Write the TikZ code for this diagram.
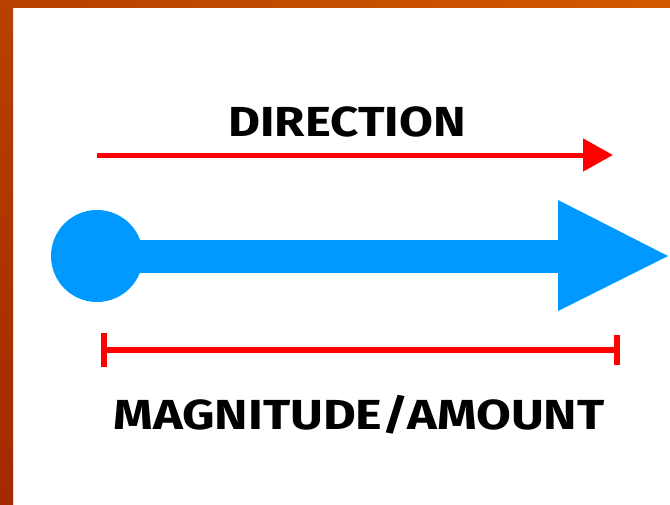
\documentclass[tikz,border=0pt]{standalone}
\usepackage{fontspec}
\setmainfont{Fira Sans}
\usetikzlibrary{arrows.meta}
\definecolor{VecBlue}{HTML}{0099FF}
\definecolor{VecRed}{HTML}{FF0000}
\definecolor{FrameDark}{HTML}{A22A00}
\definecolor{FrameMid}{HTML}{B84000}
\definecolor{FrameLight}{HTML}{D25A00}

\begin{document}
\begin{tikzpicture}[x=1pt, y=-1pt]
        \useasboundingbox (0,0) rectangle (670,504);
        \fill[white] (0,0) rectangle (670,504);
        % frame
        \shade[left color=FrameMid, right color=FrameLight] (0,0) rectangle (670,7);
        \shade[top color=FrameMid, bottom color=FrameDark] (0,0) rectangle (13,504);
        % vector
        \fill[VecBlue] (97,256) circle (46);
        \fill[VecBlue] (130,240) rectangle (560,273);
        \fill[VecBlue] (558,200) -- (668,256) -- (558,311) -- cycle;
        % direction
        \node[font=\bfseries\fontsize{42}{42}\selectfont, xscale=1.17] (dir) at (347,122) {DIRECTION};
        \coordinate (dstart) at (97,155);
        \coordinate (dend) at (613,155);
        \draw[VecRed, line width=5, -{Triangle[length=30, width=32]}] (dstart) -- (dend);
        % magnitude
        \coordinate (mstart) at (101,350);
        \coordinate (mend) at (620,350);
        \draw[VecRed, line width=6, {Bar[width=34]}-{Bar[width=30]}] (mstart) -- (mend);
        \node[font=\bfseries\fontsize{42}{42}\selectfont, xscale=1.2] (mag) at (359,415) {MAGNITUDE/AMOUNT};
    \end{tikzpicture}
\end{document}
